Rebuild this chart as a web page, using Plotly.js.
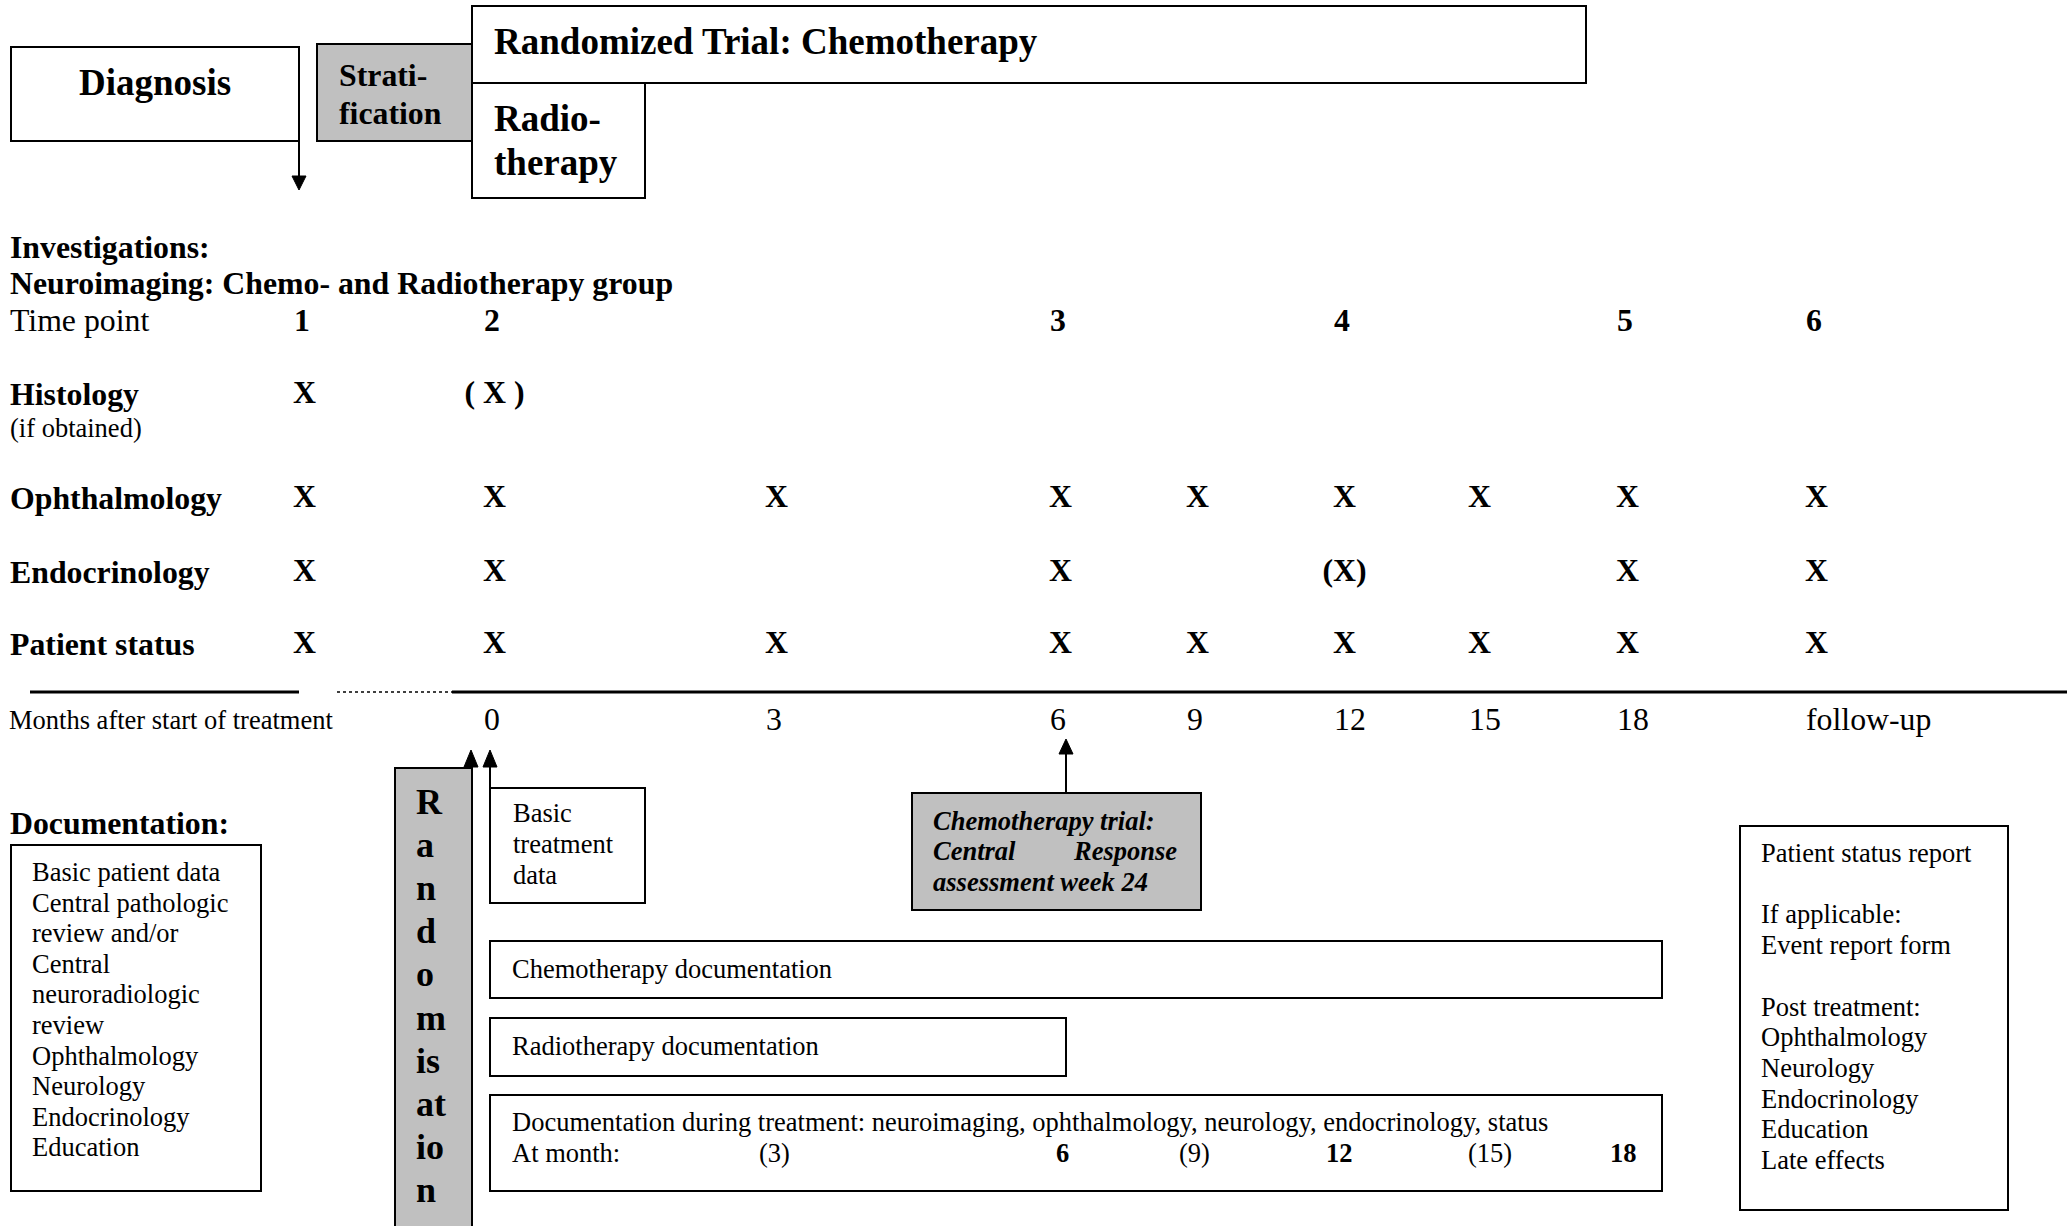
<!DOCTYPE html>
<html>
<head>
<meta charset="utf-8">
<script src="https://cdn.plot.ly/plotly-3.0.1.min.js"></script>
<style>html,body{margin:0;padding:0;background:#fff;overflow:hidden}</style>
</head>
<body>
<div id="chart" style="width:2067px;height:1226px"></div>
<script>
// ===================== DATA (texts and schedule) =====================
const trialTitle = 'Randomized Trial: Chemotherapy';
const diagnosisLabel = 'Diagnosis';
const stratificationLines = ['Strati-', 'fication'];
const radiotherapyLines = ['Radio-', 'therapy'];
const investigationsTitle = 'Investigations:';
const neuroimagingTitle = 'Neuroimaging: Chemo- and Radiotherapy group';
const timePointTitle = 'Time point';
const timePoints = ['1', '2', '', '3', '', '4', '', '5', '6'];
const monthsTitle = 'Months after start of treatment';
const monthLabels = ['', '0', '3', '6', '9', '12', '15', '18', 'follow-up'];
const investigationRows = ['Histology', 'Ophthalmology', 'Endocrinology', 'Patient status'];
const histologyMarks = ['X', '( X )', '', '', '', '', '', '', ''];
const ophthalmologyMarks = ['X', 'X', 'X', 'X', 'X', 'X', 'X', 'X', 'X'];
const endocrinologyMarks = ['X', 'X', '', 'X', '', '(X)', '', 'X', 'X'];
const patientStatusMarks = ['X', 'X', 'X', 'X', 'X', 'X', 'X', 'X', 'X'];
const histologyNote = '(if obtained)';
const documentationTitle = 'Documentation:';
const baselineDocItems = ['Basic patient data', 'Central pathologic', 'review and/or', 'Central',
  'neuroradiologic', 'review', 'Ophthalmology', 'Neurology', 'Endocrinology', 'Education'];
const randomisationLetters = ['R', 'a', 'n', 'd', 'o', 'm', 'is', 'at', 'io', 'n'];
const basicTreatmentLines = ['Basic', 'treatment', 'data'];
const responseLine1 = 'Chemotherapy trial:';
const responseLine2Left = 'Central';
const responseLine2Right = 'Response';
const responseLine3 = 'assessment week 24';
const chemoDocText = 'Chemotherapy documentation';
const radioDocText = 'Radiotherapy documentation';
const duringDocText = 'Documentation during treatment: neuroimaging, ophthalmology, neurology, endocrinology, status';
const atMonthLabel = 'At month:';
const atMonthValues = ['(3)', '6', '(9)', '12', '(15)', '18'];
const atMonthRequired = [false, true, false, true, false, true];
const followUpLines = ['Patient status report', '', 'If applicable:', 'Event report form', '',
  'Post treatment:', 'Ophthalmology', 'Neurology', 'Endocrinology', 'Education', 'Late effects'];

// ===================== LAYOUT GEOMETRY (pixel canvas) =====================
const W = 2067, H = 1226;
const FONT = 'Liberation Serif, Times New Roman, serif';
const F_BIG = 37, F_MID = 31.8, F_SMALL = 26.5, F_RAND = 36;
const colTabs = [293, 483, 765, 1049, 1186, 1333, 1468, 1616, 1805];
const colCenters = colTabs.map(t => t + 11.5);
const rowY = [395, 499, 573, 645];
const atMonthX = [774, 1062, 1194, 1339, 1490, 1623];

const annotations = [];
function txt(text, x, y, size, opts) {
  opts = opts || {};
  annotations.push({
    text: text, x: x, y: y, xref: 'x', yref: 'y', showarrow: false,
    xanchor: opts.anchor || 'left', yanchor: 'middle', borderpad: 0,
    font: {family: FONT, size: size, color: '#000'}
  });
}
const shapes = [];
function rect(x0, y0, x1, y1, fill, lw) {
  shapes.push({type: 'rect', xref: 'x', yref: 'y', x0: x0, y0: y0, x1: x1, y1: y1,
    fillcolor: fill || 'rgba(0,0,0,0)', line: {color: '#000', width: lw || 2}, layer: 'below'});
}
function line(x0, y0, x1, y1, lw, dash) {
  shapes.push({type: 'line', xref: 'x', yref: 'y', x0: x0, y0: y0, x1: x1, y1: y1,
    line: {color: '#000', width: lw, dash: dash || 'solid'}});
}
function head(x, tip, base) {
  shapes.push({type: 'path', xref: 'x', yref: 'y',
    path: `M ${x - 7},${base} L ${x + 7},${base} L ${x},${tip} Z`,
    fillcolor: '#000', line: {color: '#000', width: 1}});
}

// --- top flow boxes ---
rect(11, 47, 299, 141);
rect(317, 44, 472, 141, '#c0c0c0');
rect(472, 6, 1586, 83);
rect(472, 83, 645, 198);
txt('<b>' + diagnosisLabel + '</b>', 155, 82, F_BIG, {anchor: 'center'});
stratificationLines.forEach((s, i) => txt('<b>' + s + '</b>', 338, 75 + i * 38, F_MID));
txt('<b>' + trialTitle + '</b>', 493, 41, F_BIG);
radiotherapyLines.forEach((s, i) => txt('<b>' + s + '</b>', 493, 118 + i * 44, F_BIG));
line(299, 141, 299, 178, 2);
head(299, 190, 176);

// --- investigations ---
txt('<b>' + investigationsTitle + '</b>', 9, 247, F_MID);
txt('<b>' + neuroimagingTitle + '</b>', 9, 283, F_MID);
txt(timePointTitle, 9, 320, F_MID);
timePoints.forEach((t, i) => { if (t) txt('<b>' + t + '</b>', colTabs[i], 320, F_MID); });
investigationRows.forEach((r, i) => txt('<b>' + r + '</b>', 9, rowY[i] - 1, F_MID));
txt(histologyNote, 9, 428, F_SMALL);

// --- time line ---
line(30, 692, 299, 692, 3);
line(337, 692, 452, 692, 1.5, 'dot');
line(452, 692, W, 692, 3);
txt(monthsTitle, 8, 720, F_SMALL);
monthLabels.forEach((m, i) => { if (m) txt(m, colTabs[i], 719, F_MID); });

// --- documentation ---
txt('<b>' + documentationTitle + '</b>', 9, 823, F_MID);
rect(11, 845, 261, 1191);
baselineDocItems.forEach((s, i) => txt(s, 31, 872 + i * 30.6, F_SMALL));

rect(395, 768, 472, 1240, '#c0c0c0');
randomisationLetters.forEach((s, i) => txt('<b>' + s + '</b>', 415, 802 + i * 43.1, F_RAND));
head(471, 750, 767);
line(490, 767, 490, 788, 2);
head(490, 750, 767);

rect(490, 788, 645, 903);
basicTreatmentLines.forEach((s, i) => txt(s, 512, 813 + i * 31, F_SMALL));

rect(912, 793, 1201, 910, '#c0c0c0');
line(1066, 752, 1066, 793, 2);
head(1066, 739, 754);
txt('<b><i>' + responseLine1 + '</i></b>', 932, 821, F_SMALL);
txt('<b><i>' + responseLine2Left + '</i></b>', 932, 851, F_SMALL);
txt('<b><i>' + responseLine2Right + '</i></b>', 1178, 851, F_SMALL, {anchor: 'right'});
txt('<b><i>' + responseLine3 + '</i></b>', 932, 882, F_SMALL);

rect(490, 941, 1662, 998);
txt(chemoDocText, 511, 969, F_SMALL);
rect(490, 1018, 1066, 1076);
txt(radioDocText, 511, 1046, F_SMALL);
rect(490, 1095, 1662, 1191);
txt(duringDocText, 511, 1122, F_SMALL);
txt(atMonthLabel, 511, 1153, F_SMALL);
atMonthValues.forEach((v, i) => txt(atMonthRequired[i] ? '<b>' + v + '</b>' : v, atMonthX[i], 1153, F_SMALL, {anchor: 'center'}));

rect(1740, 826, 2008, 1210);
followUpLines.forEach((s, i) => { if (s) txt(s, 1760, 853 + i * 30.7, F_SMALL); });

// --- schedule marks drawn as a text trace on the axes ---
const markRows = [histologyMarks, ophthalmologyMarks, endocrinologyMarks, patientStatusMarks];
const mx = [], my = [], mt = [];
markRows.forEach((row, r) => row.forEach((m, c) => {
  if (m) { mx.push(colCenters[c]); my.push(rowY[r]); mt.push('<b>' + m + '</b>'); }
}));

const traces = [{
  type: 'scatter', mode: 'text', x: mx, y: my, text: mt, textposition: 'middle center',
  textfont: {family: FONT, size: F_MID, color: '#000'}, hoverinfo: 'skip', showlegend: false
}];

const layout = {
  width: W, height: H, margin: {l: 0, r: 0, t: 0, b: 0, pad: 0},
  paper_bgcolor: '#fff', plot_bgcolor: '#fff', showlegend: false,
  xaxis: {range: [0, W], visible: false, fixedrange: true},
  yaxis: {range: [H, 0], visible: false, fixedrange: true},
  shapes: shapes, annotations: annotations
};
Plotly.newPlot('chart', traces, layout, {staticPlot: true, displayModeBar: false});
</script>
</body>
</html>
